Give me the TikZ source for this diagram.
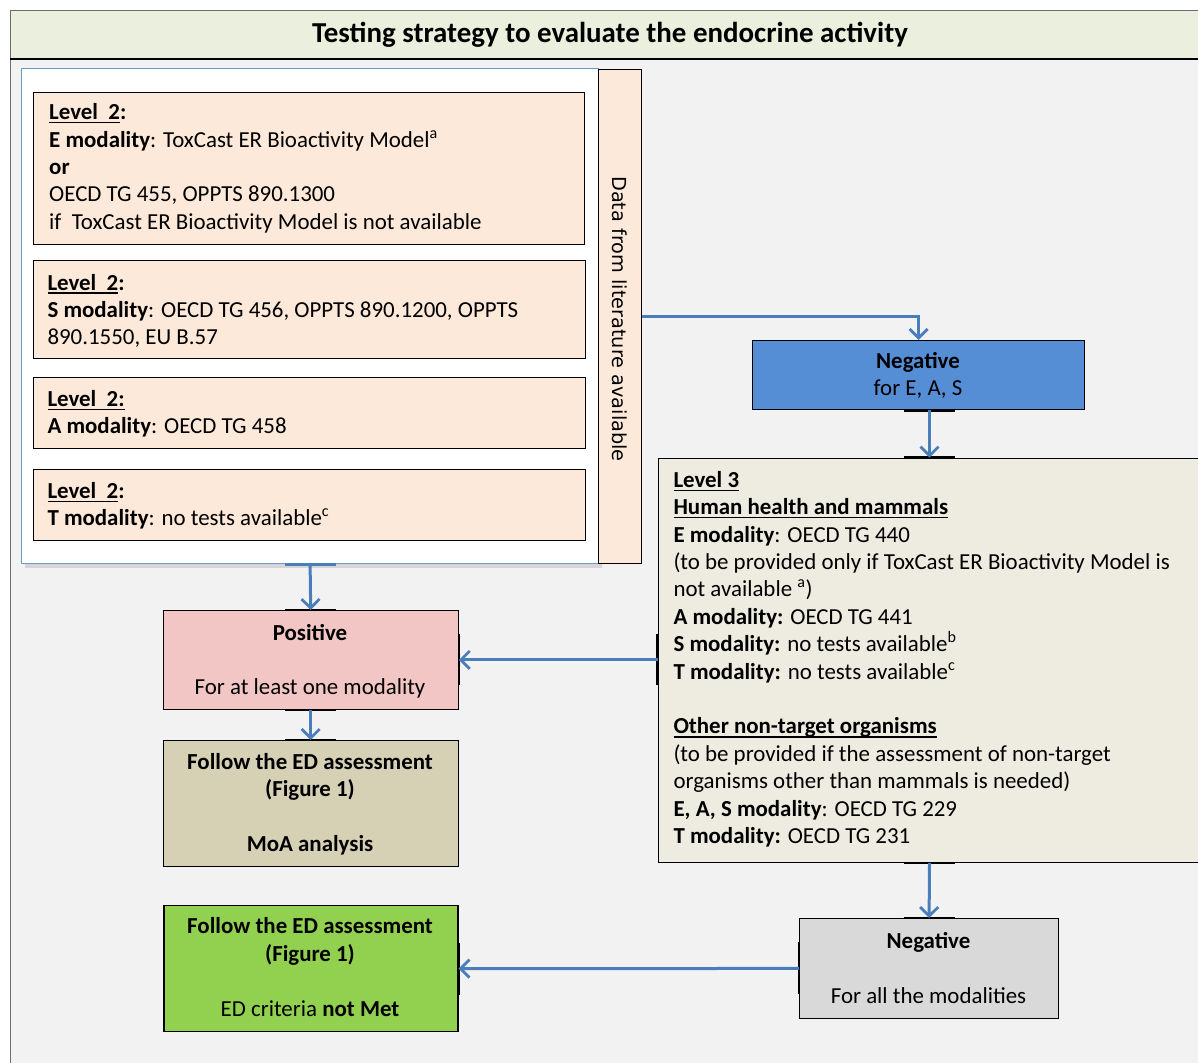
\documentclass[tikz,border=0pt]{standalone}
\usepackage{fontspec}
\setmainfont{Carlito}
\newfontfamily\stripfont{DejaVu Sans}
\usetikzlibrary{arrows.meta,shadows,calc}

\definecolor{bandgreen}{RGB}{235,239,222}
\definecolor{canvasgray}{RGB}{242,242,242}
\definecolor{peach}{RGB}{253,233,217}
\definecolor{negblue}{RGB}{85,142,213}
\definecolor{levelthree}{RGB}{238,236,225}
\definecolor{posred}{RGB}{243,198,198}
\definecolor{moatan}{RGB}{214,208,181}
\definecolor{okgreen}{RGB}{146,208,80}
\definecolor{neggray}{RGB}{217,217,217}
\definecolor{flowblue}{RGB}{74,126,187}
\definecolor{framegray}{RGB}{110,110,110}

\newcommand\bodyfont{\fontsize{22.9}{27.4}\selectfont}
% underline at a fixed depth below the baseline
\newsavebox\undlbox
\newcommand\undl[1]{\sbox\undlbox{#1}\rlap{\rule[-3.6pt]{\wd\undlbox}{1.3pt}}\usebox\undlbox}

\begin{document}
\begin{tikzpicture}[x=1pt,y=-1pt,
  panel/.style={draw=black, line width=1.2pt, rectangle, inner sep=0pt, anchor=north west},
  lefttext/.style={anchor=base west, align=left, inner sep=0pt, font=\bodyfont},
  midtext/.style={anchor=base, align=center, inner sep=0pt, font=\bodyfont},
  flow/.style={draw=flowblue, line width=3pt, -{Straight Barb[length=9pt,width=18pt,line width=2.8pt]}},
  joint/.style={draw=black, line width=2.6pt},
]
\useasboundingbox (0,0) rectangle (1198,1062);
\clip (0,0) rectangle (1198,1062);

% page background, title band and outer frame
\fill[white] (0,0) rectangle (1198,1062);
\fill[canvasgray] (10,11) rectangle (1210,1070);
\fill[bandgreen] (10,11) rectangle (1210,59);
\draw[framegray, line width=1pt] (10,1070) -- (10,11) -- (1210,11);
\draw[black, line width=1.6pt] (10,59) -- (1210,59);
\node[anchor=base, inner sep=0pt, font=\fontsize{28.9}{32}\selectfont\bfseries] (title) at (610,43)
  {Testing strategy to evaluate the endocrine activity};

% level 2 container with the literature strip
\node[panel, draw=flowblue!80, line width=1.2pt, fill=white, minimum width=577pt, minimum height=495pt,
  drop shadow={shadow xshift=3pt, shadow yshift=-4pt, opacity=0.25}] (cont) at (21,68) {};
\node[panel, fill=peach, minimum width=43pt, minimum height=494pt] (strip) at (598,69) {};
\node[anchor=base, rotate=-90, inner sep=0pt, font=\stripfont\fontsize{19.3}{22}\selectfont] (striptxt) at (612,319)
  {Data from literature available};

% multi-line texts are placed by the baseline of their last line
\node[panel, fill=peach, minimum width=551pt, minimum height=152pt] (ebox) at (33,92) {};
\node[lefttext] (etxt) at (49,229.3) {\textbf{\undl{Level\ \ 2}:}\\
  \textbf{E modality}: ToxCast ER Bioactivity Model\textsuperscript{a}\\
  \textbf{or}\\
  OECD TG 455, OPPTS 890.1300\\
  if\ \ ToxCast ER Bioactivity Model is not available};

\node[panel, fill=peach, minimum width=552pt, minimum height=98pt] (sbox) at (33,260) {};
\node[lefttext] (stxt) at (47.3,344.8) {\textbf{\undl{Level\ \ 2}:}\\
  \textbf{S modality}: OECD TG 456, OPPTS 890.1200, OPPTS\\
  890.1550, EU B.57};

\node[panel, fill=peach, minimum width=552pt, minimum height=71pt] (abox) at (33,377) {};
\node[lefttext] (atxt) at (47.3,433.9) {\textbf{\undl{Level\ \ 2:}}\\
  \textbf{A modality}: OECD TG 458};

\node[panel, fill=peach, minimum width=552pt, minimum height=71pt] (tbox) at (33,469) {};
\node[lefttext] (ttxt) at (47.3,525.7) {\textbf{\undl{Level\ \ 2}:}\\
  \textbf{T modality}: no tests available\textsuperscript{c}};

% negative for E, A, S
\node[panel, fill=negblue, minimum width=332pt, minimum height=69pt] (neg) at (752,340) {};
\node[midtext] (negtxt) at (918,395.5) {\textbf{Negative}\\for E, A, S};

% level 3
\node[panel, fill=levelthree, minimum width=560pt, minimum height=404pt] (lvl3) at (657.7,457.7) {};
\node[lefttext] (lvl3txt) at (673.3,843.5) {\textbf{\undl{Level 3}}\\
  \textbf{\undl{Human health and mammals}}\\
  \textbf{E modality}: OECD TG 440\\
  (to be provided only if ToxCast ER Bioactivity Model is\\
  not available \textsuperscript{a})\\
  \textbf{A modality:} OECD TG 441\\
  \textbf{S modality:} no tests available\textsuperscript{b}\\
  \textbf{T modality:} no tests available\textsuperscript{c}\\[27.4pt]
  \textbf{\undl{Other non-target organisms}}\\
  (to be provided if the assessment of non-target\\
  organisms other than mammals is needed)\\
  \textbf{E, A, S modality}: OECD TG 229\\
  \textbf{T modality:} OECD TG 231};

% outcomes
\node[panel, fill=posred, minimum width=295pt, minimum height=98.7pt] (pos) at (162.6,610) {};
\node[midtext] (postxt) at (310,694.8) {\textbf{Positive}\\[27.4pt]For at least one modality};

\node[panel, fill=moatan, minimum width=295pt, minimum height=126pt] (moa) at (162.6,740) {};
\node[midtext] (moatxt) at (310,851.4) {\textbf{Follow the ED assessment}\\
  \textbf{(Figure 1)}\\[27.4pt]\textbf{MoA analysis}};

\node[panel, fill=neggray, minimum width=259pt, minimum height=99.7pt] (neg2) at (799,918) {};
\node[midtext] (neg2txt) at (928.5,1003.1) {\textbf{Negative}\\[27.4pt]For all the modalities};

\node[panel, fill=okgreen, minimum width=294pt, minimum height=126pt] (met) at (163.3,905) {};
\node[midtext] (mettxt) at (310,1016) {\textbf{Follow the ED assessment}\\
  \textbf{(Figure 1)}\\[27.4pt]ED criteria \textbf{not Met}};

% connection points on the borders
\coordinate (rcol) at (929.5,0);
\coordinate (jl) at (-25.5,0);
\coordinate (jr) at (25.5,0);
\draw[joint] ($(neg.south -| rcol)+(jl)$) -- ($(neg.south -| rcol)+(jr)$);
\draw[joint] ($(lvl3.north -| rcol)+(jl)$) -- ($(lvl3.north -| rcol)+(jr)$);
\draw[joint] ($(lvl3.south -| rcol)+(jl)$) -- ($(lvl3.south -| rcol)+(jr)$);
\draw[joint] ($(neg2.north)+(jl)$) -- ($(neg2.north)+(jr)$);
\draw[joint] ($(pos.north)+(jl)$) -- ($(pos.north)+(jr)$);
\draw[joint] ($(pos.south)+(jl)$) -- ($(pos.south)+(jr)$);
\draw[joint] ($(moa.north)+(jl)$) -- ($(moa.north)+(jr)$);
\draw[joint] ($(pos.east)+(0,-25.5)$) -- ($(pos.east)+(0,25.5)$);
\draw[joint] ($(pos.east -| lvl3.west)+(0,-25.5)$) -- ($(pos.east -| lvl3.west)+(0,25.5)$);
\draw[joint] ($(neg2.west)+(0,-26)$) -- ($(neg2.west)+(0,26)$);
\draw[joint] ($(met.east)+(0,-26)$) -- ($(met.east)+(0,26)$);
\draw[draw=flowblue, line width=2.6pt] ($(cont.south)+(jl)$) -- ($(cont.south)+(jr)$);

% connectors
\draw[flow] (strip.east) -| (neg.north);
\draw[flow] (neg.south -| rcol) -- (lvl3.north -| rcol);
\draw[flow] (lvl3.south -| rcol) -- (neg2.north);
\draw[flow] (neg2.west) -- (met.east);
\draw[flow] (cont.south) -- (pos.north);
\draw[flow] (pos.east -| lvl3.west) -- (pos.east);
\draw[flow] (pos.south) -- (moa.north);
\end{tikzpicture}
\end{document}
